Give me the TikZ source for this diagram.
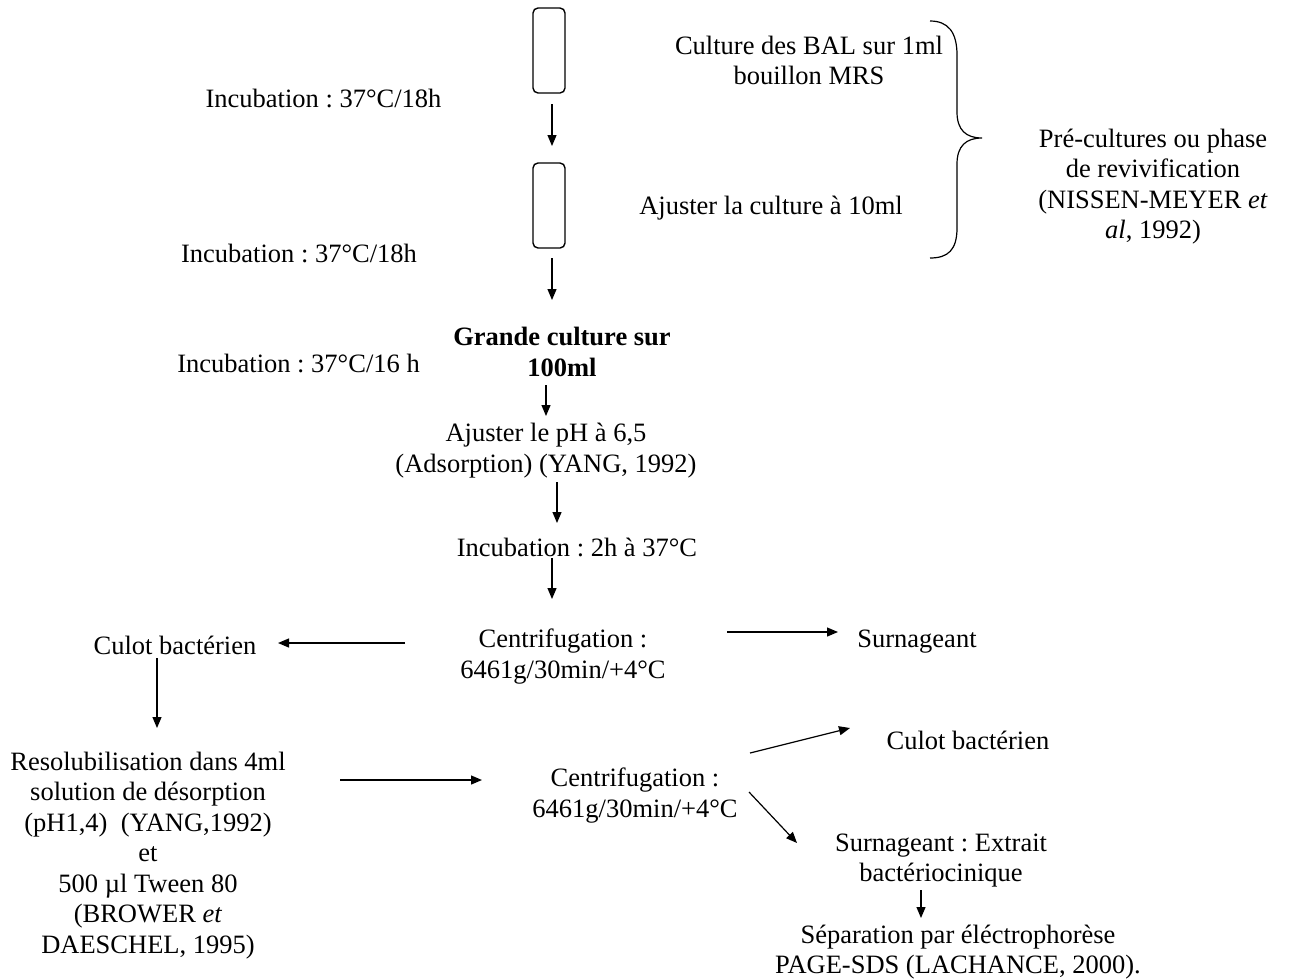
\documentclass[tikz,border=0pt]{standalone}
\usepackage{fontspec}
\setmainfont{Liberation Serif}
\usetikzlibrary{arrows.meta}
\newcommand\mystrut{\rule[-6.15pt]{0pt}{30.5pt}}
\begin{document}
\frenchspacing
\begin{tikzpicture}[x=1pt,y=-1pt,
  every node/.style={inner sep=0pt, outer sep=0pt, align=center, font=\fontsize{26.5}{30.5}\selectfont},
  boldtxt/.style={font=\fontsize{26.5}{30.5}\selectfont\bfseries},
  arr/.style={line width=1.2pt, -{Triangle[length=11pt,width=9pt]}},
  tube/.style={draw, line width=1.4pt, rounded corners=5pt, minimum width=32pt, minimum height=85pt}]
\useasboundingbox (0,0) rectangle (1290,978);

% tubes
\node[tube] (tube1) at (549,50.5) {};
\node[tube] (tube2) at (549,205.5) {};

% texts
\node (inc1) at (323.5,98) {\mystrut Incubation : 37°C/18h};
\node (inc2) at (299,253) {\mystrut Incubation : 37°C/18h};
\node (inc3) at (298.5,363) {\mystrut Incubation : 37°C/16 h};
\node (cult1) at (809,60.5) {\mystrut Culture des BAL sur 1ml\\\mystrut bouillon MRS};
\node (cult2) at (771,205) {\mystrut Ajuster la culture à 10ml};
\node (pre) at (1153,184) {\mystrut Pré-cultures ou phase\\\mystrut de revivification\\\mystrut (NISSEN-MEYER \textit{et}\\\mystrut \textit{al}, 1992)};
\node[boldtxt] (grande) at (562,352) {\mystrut Grande culture sur\\\mystrut 100ml};
\node (ph) at (546,448) {\mystrut Ajuster le pH à 6,5\\\mystrut (Adsorption) (YANG, 1992)};
\node (inc4) at (577,547) {\mystrut Incubation : 2h à 37°C};
\node (cent1) at (563,654) {\mystrut Centrifugation :\\\mystrut 6461g/30min/+4°C};
\node (cul1) at (175,645) {\mystrut Culot bactérien};
\node (surn1) at (917,638) {\mystrut Surnageant};
\node (resol) at (148,852.5) {\mystrut Resolubilisation dans 4ml\\\mystrut solution de désorption\\\mystrut (pH1,4)\ \ (YANG,1992)\\\mystrut et\\\mystrut 500 µl Tween 80\\\mystrut (BROWER \textit{et}\\\mystrut DAESCHEL, 1995)};
\node (cent2) at (635,793) {\mystrut Centrifugation :\\\mystrut 6461g/30min/+4°C};
\node (cul2) at (968,740) {\mystrut Culot bactérien};
\node (surn2) at (941,857.5) {\mystrut Surnageant : Extrait\\\mystrut bactériocinique};
\node (sep) at (958,949.5) {\mystrut Séparation par éléctrophorèse\\\mystrut PAGE-SDS (LACHANCE, 2000).};

% brace
\draw[line width=1.2pt] (930,21) .. controls (948,21) and (957,32) .. (957,55) -- (957,112)
  .. controls (957,130) and (966,138) .. (982,138)
  .. controls (966,138) and (957,146) .. (957,164) -- (957,228)
  .. controls (957,250) and (948,258) .. (930,258);

% connectors
\draw[arr] ([xshift=3pt,yshift=-53.5pt]tube1.center) -- ([xshift=3pt,yshift=59.5pt]tube2.center);
\draw[arr] ([xshift=3pt,yshift=-52.5pt]tube2.center) -- ([xshift=-10pt,yshift=52pt]grande.center);
\draw[arr] ([xshift=-16pt,yshift=-33pt]grande.center) -- ([xshift=0pt,yshift=32pt]ph.center);
\draw[arr] ([xshift=11pt,yshift=-34pt]ph.center) -- ([xshift=-20pt,yshift=24pt]inc4.center);
\draw[arr] ([xshift=-25pt,yshift=-11pt]inc4.center) -- ([xshift=-11pt,yshift=55pt]cent1.center);
\draw[arr] ([xshift=-158pt,yshift=11pt]cent1.center) -- ([xshift=103pt,yshift=2pt]cul1.center);
\draw[arr] ([xshift=164pt,yshift=22pt]cent1.center) -- ([xshift=-79pt,yshift=6pt]surn1.center);
\draw[arr] ([xshift=-18pt,yshift=-13pt]cul1.center) -- ([xshift=9pt,yshift=124.5pt]resol.center);
\draw[arr] ([xshift=192pt,yshift=72.5pt]resol.center) -- ([xshift=-153pt,yshift=13pt]cent2.center);
\draw[arr] ([xshift=115pt,yshift=40pt]cent2.center) -- ([xshift=-118pt,yshift=12pt]cul2.center);
\draw[arr] ([xshift=114pt,yshift=1pt]cent2.center) -- ([xshift=-144pt,yshift=14.5pt]surn2.center);
\draw[arr] ([xshift=-20pt,yshift=-32.5pt]surn2.center) -- ([xshift=-37pt,yshift=31.5pt]sep.center);
\end{tikzpicture}
\end{document}
